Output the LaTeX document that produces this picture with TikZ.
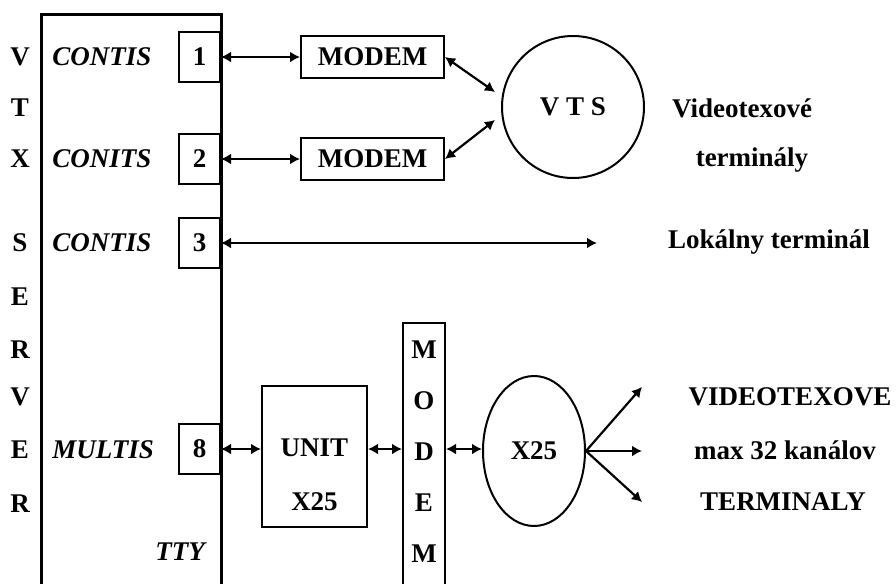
\documentclass[tikz,border=0pt]{standalone}
\usepackage{fontspec}
\setmainfont{Liberation Serif}
\usetikzlibrary{arrows.meta, positioning, calc, shapes.geometric}

\begin{document}
\begin{tikzpicture}[
  x=0.5pt, y=-0.5pt,
  lbl/.style={font=\bfseries\fontsize{13.5}{16}\selectfont, inner sep=1pt},
  ital/.style={font=\bfseries\itshape\fontsize{13.5}{16}\selectfont, inner sep=1pt},
  port/.style={lbl, draw, line width=1pt, minimum width=20.5pt, minimum height=25pt, anchor=east},
  modem/.style={lbl, draw, line width=1pt, minimum width=71.5pt, minimum height=21pt},
  vtext/.style={align=center, font=\bfseries\fontsize{13.5}{25.5}\selectfont},
  darr/.style={{Latex[length=5pt, width=5.5pt]}-{Latex[length=5pt, width=5.5pt]}, line width=1.1pt},
  sarr/.style={-{Latex[length=5pt, width=5.5pt]}, line width=1.1pt},
]
  \useasboundingbox (0,0) rectangle (896,584);

  % Server
  \draw[line width=1.5pt] (41,600) |- (221,14) -- (221,600);
  \foreach \l/\y [count=\i] in {V/57,T/108,X/159,S/243,E/297,R/350,V/397,E/450,R/504}
    \node[lbl] (side\i) at (20,\y) {\l};

  \node[ital, anchor=west] (con1) at (50,57) {CONTIS};
  \node[ital, anchor=west] (con2) at (50,159) {CONITS};
  \node[ital, anchor=west] (con3) at (50,243) {CONTIS};
  \node[ital, anchor=west] (mul) at (50,450) {MULTIS};
  \node[ital] (tty) at (180,552) {TTY};

  % Ports
  \node[port] (p1) at (221,57) {1};
  \node[port] (p2) at (221,159) {2};
  \node[port] (p3) at (221,243) {3};
  \node[port] (p8) at (221,449) {8};

  % Videotex part
  \node[modem, right=39.5pt of p1] (modem1) {MODEM};
  \node[modem, right=39.5pt of p2] (modem2) {MODEM};
  \node[lbl, circle, draw, line width=1pt, minimum size=71pt] (vts) at (573,107) {V T S};
  \coordinate (vtsin1) at ($(vts.west)+(-6,-15)$);
  \coordinate (vtsin2) at ($(vts.west)+(-6,13)$);
  \coordinate (lokend) at (597,243);

  \draw[darr] (p1) -- (modem1);
  \draw[darr] (p2) -- (modem2);
  \draw[darr] (modem1.east) -- (vtsin1);
  \draw[darr] (modem2.east) -- (vtsin2);
  \draw[darr] (p3.east) -- (lokend);

  \node[lbl] (vtt1) at (742,108) {Videotexové};
  \node[lbl] (vtt2) at (752,160) {terminály};
  \node[lbl] (lok) at (769,242) {Lokálny terminál};

  % X25 part
  \node[draw, line width=1pt, minimum width=52.5pt, minimum height=70.5pt] (unit) at (314.5,456.5) {};
  \node[lbl, align=center] (unittxt) at (314.5,475) {UNIT\\[11pt]X25};
  \node[draw, line width=1pt, minimum width=21pt, minimum height=150pt, anchor=north] (modemv) at (424,322) {};
  \node[vtext] (modemtxt) at (424,452) {M\\O\\D\\E\\M};
  \node[lbl, ellipse, draw, line width=1pt, minimum width=51pt, minimum height=75pt] (x25) at (534,451) {X25};

  \draw[darr] (p8.east) -- (p8.east -| unit.west);
  \draw[darr] (p8 -| unit.east) -- (p8 -| modemv.west);
  \draw[darr] (p8 -| modemv.east) -- (p8 -| x25.west);

  \coordinate (fan1) at (642,387);
  \coordinate (fan2) at (642,451);
  \coordinate (fan3) at (642,502);
  \draw[sarr] (x25.east) -- (fan1);
  \draw[sarr] (x25.east) -- (fan2);
  \draw[sarr] (x25.east) -- (fan3);

  \node[lbl] (vt1) at (790,397) {VIDEOTEXOVE};
  \node[lbl] (vt2) at (785,450) {max 32 kanálov};
  \node[lbl] (vt3) at (783,502) {TERMINALY};
\end{tikzpicture}
\end{document}
